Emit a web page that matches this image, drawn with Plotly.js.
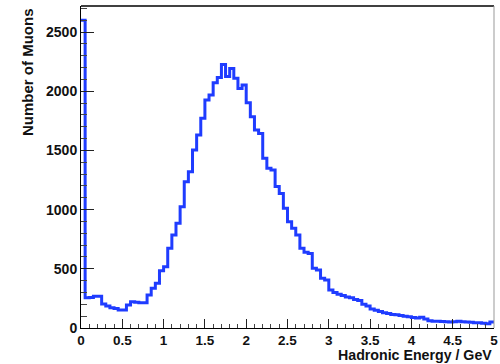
<!DOCTYPE html>
<html>
<head>
<meta charset="utf-8">
<script src="https://cdn.plot.ly/plotly-3.0.1.min.js"></script>
<style>html,body{margin:0;padding:0;background:#fff;}#chart{width:500px;height:364px;}</style>
</head>
<body>
<div id="chart"></div>
<script>
// Histogram: 100 bins of 0.05 GeV from 0 to 5 GeV
const binLow = 0;
const binWidth = 0.05;
const counts = [
  2600, 255, 258, 268, 268, 203, 186, 172, 165, 152,
  152, 194, 222, 218, 214, 214, 279, 335, 377, 484,
  518, 673, 785, 884, 1025, 1236, 1320, 1503, 1630, 1771,
  1926, 1968, 2072, 2117, 2225, 2125, 2193, 2109, 2024, 2052,
  1903, 1785, 1672, 1644, 1433, 1349, 1335, 1195, 1137, 1011,
  898, 842, 785, 673, 640, 630, 504, 490, 420, 405,
  321, 300, 285, 275, 262, 255, 240, 232, 200, 185,
  160, 150, 140, 128, 122, 115, 112, 105, 100, 95,
  88, 85, 90, 75, 62, 58, 57, 55, 52, 50,
  52, 58, 52, 50, 48, 45, 45, 40, 35, 50
];
const xTickVals = [0, 0.5, 1, 1.5, 2, 2.5, 3, 3.5, 4, 4.5, 5];
const xTickText = ['0', '0.5', '1', '1.5', '2', '2.5', '3', '3.5', '4', '4.5', '5'];
const yTickVals = [0, 500, 1000, 1500, 2000, 2500];
const yTickText = ['0', '500', '1000', '1500', '2000', '2500'];
const xTitle = 'Hadronic Energy / GeV';
const yTitle = 'Number of Muons';

// step outline built from bin edges
const xs = [], ys = [];
counts.forEach((c, i) => { xs.push(binLow + i * binWidth); ys.push(c); });
xs.push(binLow + counts.length * binWidth); ys.push(counts[counts.length - 1]);

const font = {family: 'Liberation Sans, Arial, sans-serif', size: 14, color: '#111', weight: 'bold'};

const trace = {
  type: 'scatter', mode: 'lines', x: xs, y: ys,
  line: {shape: 'hv', color: '#1f3cff', width: 3},
  hoverinfo: 'skip'
};

const layout = {
  width: 500, height: 364,
  margin: {l: 81, r: 6, t: 6, b: 36},
  paper_bgcolor: '#fff', plot_bgcolor: '#fff',
  showlegend: false,
  xaxis: {
    range: [0, 5], tickvals: xTickVals, ticktext: xTickText,
    ticks: 'inside', ticklen: 9, tickwidth: 1, tickcolor: '#222',
    minor: {dtick: 0.1, ticks: 'inside', ticklen: 4.5, tickcolor: '#444', tickwidth: 1},
    showline: true, linecolor: '#000', linewidth: 1, mirror: false,
    showgrid: false, zeroline: false, tickfont: Object.assign({}, font, {size: 13.5})
  },
  yaxis: {
    range: [0, 2720], tickvals: yTickVals, ticktext: yTickText,
    ticks: 'inside', ticklen: 13, tickwidth: 1, tickcolor: '#222',
    minor: {dtick: 100, ticks: 'inside', ticklen: 6, tickcolor: '#444', tickwidth: 1},
    showline: true, linecolor: '#000', linewidth: 1, mirror: false,
    showgrid: false, zeroline: false, tickfont: font
  },
  shapes: [
    {type: 'line', xref: 'paper', yref: 'paper', x0: 0, x1: 1, y0: 1, y1: 1, line: {color: '#000', width: 1.5}},
    {type: 'line', xref: 'paper', yref: 'paper', x0: 1, x1: 1, y0: 0, y1: 1, line: {color: '#999', width: 1}}
  ],
  annotations: [
    {text: xTitle, xref: 'paper', yref: 'paper', x: 1, y: 0, xanchor: 'right', yanchor: 'middle',
     yshift: -27, showarrow: false, font: Object.assign({}, font, {size: 14.2})},
    {text: yTitle, xref: 'paper', yref: 'paper', x: 0, y: 0.795, xanchor: 'center', yanchor: 'middle',
     xshift: -54, textangle: -90, showarrow: false, font: Object.assign({}, font, {size: 15})}
  ]
};

Plotly.newPlot('chart', [trace], layout, {displayModeBar: false, staticPlot: true});
</script>
</body>
</html>
